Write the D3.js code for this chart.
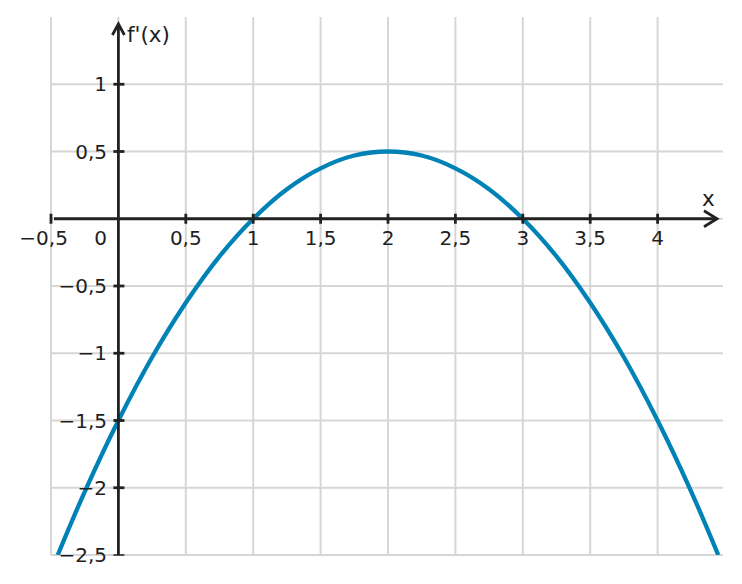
<!DOCTYPE html>
<html><head><meta charset="utf-8">
<script src="https://cdn.jsdelivr.net/npm/d3@7"></script>
<style>body{margin:0;background:#fff}text{font-family:"DejaVu Sans",sans-serif;fill:#1e1e1e}</style>
</head><body><svg id="c" width="742" height="584"></svg>
<script>
// data
const curveX = [-0.45,-0.25,0,0.25,0.5,0.75,1,1.25,1.5,1.75,2,2.25,2.5,2.75,3,3.25,3.5,3.75,4,4.25,4.45];
const curveY = [-2.5,-2.03,-1.5,-1.03,-0.625,-0.28,0,0.22,0.375,0.47,0.5,0.47,0.375,0.22,0,-0.28,-0.625,-1.03,-1.5,-2.03,-2.5];
const xTicks = [0.5,1,1.5,2,2.5,3,3.5,4];
const xGrid = [-0.5,0,0.5,1,1.5,2,2.5,3,3.5,4];
const yTicks = [1,0.5,-0.5,-1,-1.5,-2,-2.5];
const yGrid = [1,0.5,0,-0.5,-1,-1.5,-2,-2.5];

const svg = d3.select("#c");
const x = d3.scaleLinear().domain([-0.5,4.5]).range([51,725]);
const y = d3.scaleLinear().domain([-2.5,1.5]).range([555,17]);
const fmt = v => String(Math.abs(v)).replace(".",",");
const ink = "#222";

// grid
svg.append("g").selectAll("line").data(xGrid).join("line")
  .attr("x1",d=>x(d)).attr("x2",d=>x(d)).attr("y1",y(1.5)).attr("y2",y(-2.5))
  .attr("stroke","#d6d6d6").attr("stroke-width",2);
svg.append("g").selectAll("line").data(yGrid).join("line")
  .attr("x1",x(-0.5)).attr("x2",723).attr("y1",d=>y(d)).attr("y2",d=>y(d))
  .attr("stroke","#d6d6d6").attr("stroke-width",2);

// curve
svg.append("clipPath").attr("id","pc").append("rect")
  .attr("x",x(-0.5)).attr("y",y(1.5)).attr("width",x(4.5)-x(-0.5)).attr("height",y(-2.5)-y(1.5));
const pts = curveX.map((v,i)=>[v,curveY[i]]);
svg.append("path").datum(pts)
  .attr("d", d3.line().x(d=>x(d[0])).y(d=>y(d[1])).curve(d3.curveCatmullRom))
  .attr("fill","none").attr("stroke","#0082b6").attr("stroke-width",4.3).attr("clip-path","url(#pc)");

// axes
const ax = svg.append("g").attr("stroke",ink).attr("stroke-width",2.8).attr("fill","none");
ax.append("line").attr("x1",x(-0.5)+3).attr("x2",717).attr("y1",y(0)).attr("y2",y(0));
ax.append("path").attr("d",`M${717-13},${y(0)-8}L717,${y(0)}L${717-13},${y(0)+8}`).attr("stroke-linejoin","miter");
ax.append("line").attr("x1",x(0)).attr("x2",x(0)).attr("y1",24).attr("y2",y(-2.5));
ax.append("path").attr("d",`M${x(0)-6},35L${x(0)},24L${x(0)+6},35`);
// x ticks
ax.selectAll(".xt").data(xTicks.concat([-0.5])).join("line")
  .attr("x1",d=>x(d)).attr("x2",d=>x(d)).attr("y1",y(0)-5).attr("y2",y(0)+5);
// y ticks
ax.selectAll(".yt").data(yTicks).join("line")
  .attr("x1",x(0)-5).attr("x2",x(0)+6).attr("y1",d=>y(d)).attr("y2",d=>y(d))
  .attr("stroke-width",d=>d===-2.5?1.5:2.8);

// labels
const fs = 20;
svg.append("g").selectAll("text").data(xTicks).join("text")
  .attr("x",d=>x(d)).attr("y",245).attr("text-anchor","middle").attr("font-size",fs).text(fmt);
// -0,5 on x: number centred on tick, minus hanging left
const xm = svg.append("text").attr("x",x(-0.5)+1).attr("y",245).attr("text-anchor","middle").attr("font-size",fs).text(fmt(-0.5));
const w = xm.node().getComputedTextLength();
svg.append("text").attr("x",x(-0.5)+1-w/2).attr("y",245).attr("text-anchor","end").attr("font-size",fs).text("\u2212");
svg.append("text").attr("x",107).attr("y",245).attr("text-anchor","end").attr("font-size",fs).text("0");
svg.append("g").selectAll("text").data(yTicks).join("text")
  .attr("x",107).attr("y",d=>y(d)+7).attr("text-anchor","end").attr("font-size",fs)
  .text(d=>(d<0?"\u2212":"")+fmt(d));
svg.append("text").attr("x",127).attr("y",42).attr("font-size",21.5).text("f'(x)");
svg.append("text").attr("x",702).attr("y",206).attr("font-size",21.5).text("x");
</script></body></html>
